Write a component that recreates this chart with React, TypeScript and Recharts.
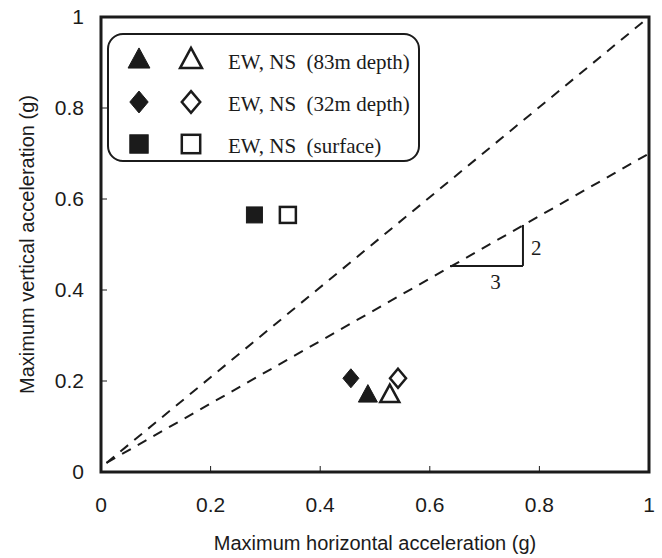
import {
    ScatterChart,
    Scatter,
    XAxis,
    YAxis,
    ReferenceLine,
    ReferenceArea,
    ReferenceDot,
    Legend
} from 'recharts';

// peak accelerations (g): h = horizontal, v = vertical
const depth83EW = [{ h: 0.487, v: 0.169 }];
const depth83NS = [{ h: 0.527, v: 0.169 }];
const depth32EW = [{ h: 0.456, v: 0.206 }];
const depth32NS = [{ h: 0.542, v: 0.206 }];
const surfaceEW = [{ h: 0.28, v: 0.565 }];
const surfaceNS = [{ h: 0.341, v: 0.565 }];

// dashed guide lines
const lineOneToOne = [{ x: 0.01, y: 0.02 }, { x: 1, y: 1 }];
const lineTwoToThree = [{ x: 0.01, y: 0.02 }, { x: 1, y: 0.7 }];

// slope triangle 2:3
const slopeRun = [{ x: 0.637, y: 0.453 }, { x: 0.77, y: 0.453 }];
const slopeRise = [{ x: 0.77, y: 0.453 }, { x: 0.77, y: 0.543 }];
const slopeLabels = [
    { x: 0.77, y: 0.494, text: '2', position: 'right' },
    { x: 0.72, y: 0.453, text: '3', position: 'bottom' }
];

const axisTicks = [0, 0.2, 0.4, 0.6, 0.8, 1];

const legendRows = [
    { kind: 'triangle', label: 'EW, NS  (83m depth)' },
    { kind: 'diamond', label: 'EW, NS  (32m depth)' },
    { kind: 'square', label: 'EW, NS  (surface)' }
];

const INK = '#1b1b1b';
const SANS = '"Liberation Sans", Arial, sans-serif';
const SERIF = '"Liberation Serif", "Times New Roman", serif';

type Kind = 'triangle' | 'diamond' | 'square';

function marker(kind: Kind, filled: boolean, cx: number, cy: number, scale = 1) {
    const fill = filled ? INK : '#fff';
    const sw = filled ? 1 : 2.5;
    if (kind === 'square') {
        const s = 8 * scale;
        return <rect x={cx - s} y={cy - s} width={s * 2} height={s * 2} fill={fill} stroke={INK} strokeWidth={sw} />;
    }
    if (kind === 'triangle') {
        const w = 9.5 * scale, up = 10.5 * scale, dn = 7 * scale;
        return <polygon points={`${cx},${cy - up} ${cx - w},${cy + dn} ${cx + w},${cy + dn}`} fill={fill} stroke={INK} strokeWidth={sw} strokeLinejoin="miter" />;
    }
    const w = 8 * scale, hgt = 9.5 * scale;
    return <polygon points={`${cx},${cy - hgt} ${cx + w},${cy} ${cx},${cy + hgt} ${cx - w},${cy}`} fill={fill} stroke={INK} strokeWidth={sw} />;
}

const shapeOf = (kind: Kind, filled: boolean) => (props: any) => marker(kind, filled, props.cx, props.cy);

const fmt = (v: number) => (v === 0 || v === 1 ? String(v) : v.toFixed(1));

function LegendBox() {
    return (
        <div style={{
            width: 309,
            height: 121,
            border: `2px solid ${INK}`,
            borderRadius: 16,
            background: '#fff',
            boxSizing: 'content-box',
            paddingTop: 4
        }}>
            {legendRows.map((r) => (
                <div key={r.kind} style={{ display: 'flex', alignItems: 'center', height: 42 }}>
                    <svg width={119} height={42}>
                        {marker(r.kind as Kind, true, 30, 21, 1.15)}
                        {marker(r.kind as Kind, false, 82, 21, 1.15)}
                    </svg>
                    <span style={{ fontFamily: SERIF, fontSize: 21, color: INK, whiteSpace: 'pre', marginTop: 4 }}>{r.label}</span>
                </div>
            ))}
        </div>
    );
}

export default function App() {
    return (
        <div style={{ position: 'absolute', left: 0, top: 0, width: 662, height: 558, background: '#fff' }}>
            <ScatterChart
                width={662}
                height={558}
                margin={{ top: 17, right: 13, bottom: 0, left: 41 }}
            >
                <XAxis
                    type="number"
                    dataKey="h"
                    domain={[0, 1]}
                    ticks={axisTicks}
                    tickFormatter={fmt}
                    axisLine={false}
                    tickSize={-6}
                    tickMargin={31}
                    tickLine={{ stroke: INK, strokeWidth: 1 }}
                    tick={{ fill: INK, fontSize: 21, fontFamily: SANS }}
                    height={86}
                    label={{ value: 'Maximum horizontal acceleration (g)', position: 'insideBottom', offset: 8, fill: INK, fontSize: 20, fontFamily: SANS }}
                />
                <YAxis
                    type="number"
                    dataKey="v"
                    domain={[0, 1]}
                    ticks={axisTicks}
                    tickFormatter={fmt}
                    axisLine={false}
                    tickSize={-6}
                    tickMargin={23}
                    tickLine={{ stroke: INK, strokeWidth: 1 }}
                    tick={{ fill: INK, fontSize: 21, fontFamily: SANS }}
                    width={60}
                    label={{ value: 'Maximum vertical acceleration (g)', angle: -90, position: 'insideLeft', offset: -14, style: { textAnchor: 'middle' }, fill: INK, fontSize: 20, fontFamily: SANS }}
                />
                <ReferenceArea x1={0} x2={1} y1={0} y2={1} fill="none" stroke={INK} strokeWidth={3} />
                <ReferenceLine segment={lineOneToOne} stroke={INK} strokeWidth={2} strokeDasharray="10 8" />
                <ReferenceLine segment={lineTwoToThree} stroke={INK} strokeWidth={2} strokeDasharray="10 8" />
                <ReferenceLine segment={slopeRun} stroke={INK} strokeWidth={2} />
                <ReferenceLine segment={slopeRise} stroke={INK} strokeWidth={2} />
                {slopeLabels.map((s) => (
                    <ReferenceDot
                        key={s.text}
                        x={s.x}
                        y={s.y}
                        r={0}
                        stroke="none"
                        fill="none"
                        label={{ value: s.text, position: s.position as any, offset: 8, fill: INK, fontSize: 21, fontFamily: SERIF }}
                    />
                ))}
                <Scatter name="EW 83m" data={depth83EW} shape={shapeOf('triangle', true)} isAnimationActive={false} />
                <Scatter name="NS 83m" data={depth83NS} shape={shapeOf('triangle', false)} isAnimationActive={false} />
                <Scatter name="EW 32m" data={depth32EW} shape={shapeOf('diamond', true)} isAnimationActive={false} />
                <Scatter name="NS 32m" data={depth32NS} shape={shapeOf('diamond', false)} isAnimationActive={false} />
                <Scatter name="EW surface" data={surfaceEW} shape={shapeOf('square', true)} isAnimationActive={false} />
                <Scatter name="NS surface" data={surfaceNS} shape={shapeOf('square', false)} isAnimationActive={false} />
                <Legend
                    layout="vertical"
                    align="center"
                    verticalAlign="middle"
                    content={() => <LegendBox />}
                    wrapperStyle={{ left: 107, top: 33, width: 313, margin: 0 }}
                />
            </ScatterChart>
        </div>
    );
}
